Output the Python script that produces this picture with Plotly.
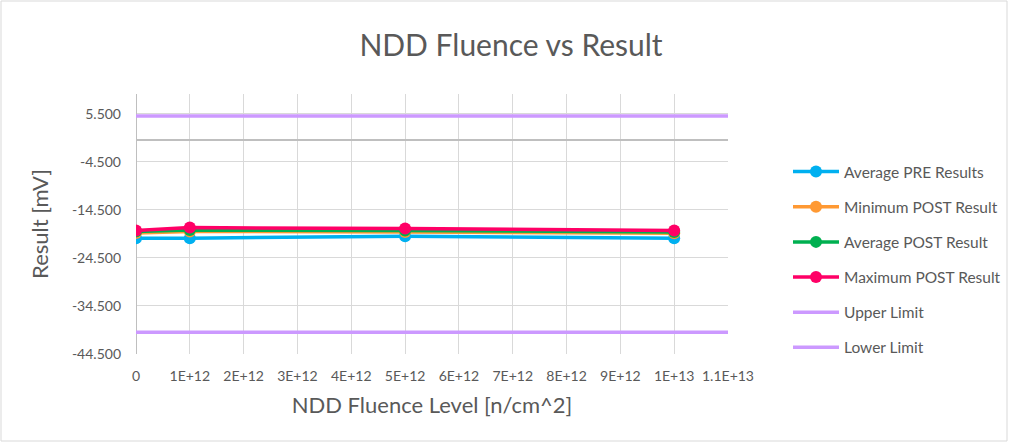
import plotly.graph_objects as go

fluence = [0, 1e12, 5e12, 1e13]
avg_pre = [-20.4, -20.4, -20.0, -20.4]
min_post = [-19.3, -19.0, -19.1, -19.4]
avg_post = [-19.0, -18.7, -18.8, -19.1]
max_post = [-18.8, -18.2, -18.4, -18.8]

limit_x = [0, 1.1e13]
upper_limit = [5, 5]
lower_limit = [-40, -40]

x_tickvals = [0, 1e12, 2e12, 3e12, 4e12, 5e12, 6e12, 7e12, 8e12, 9e12, 1e13, 1.1e13]
x_ticktext = ["0", "1E+12", "2E+12", "3E+12", "4E+12", "5E+12", "6E+12", "7E+12",
              "8E+12", "9E+12", "1E+13", "1.1E+13"]
y_tickvals = [-44.5, -34.5, -24.5, -14.5, -4.5, 5.5]
y_ticktext = ["-44.500", "-34.500", "-24.500", "-14.500", "-4.500", "5.500"]

FONT = "Lato, 'Open Sans', sans-serif"
TXT = "#595959"

series = [
    ("Average PRE Results", avg_pre, "#00B0F0"),
    ("Minimum POST Result", min_post, "#FF9933"),
    ("Average POST Result", avg_post, "#00B050"),
    ("Maximum POST Result", max_post, "#FF0066"),
]

fig = go.Figure()
for i, (name, vals, col) in enumerate(series):
    fig.add_trace(go.Scatter(
        x=fluence, y=vals, name=name, mode="lines+markers",
        line=dict(color=col, width=3.5),
        marker=dict(color=col, size=12),
        legendgroup=f"g{i}",
    ))
fig.add_trace(go.Scatter(x=limit_x, y=upper_limit, name="Upper Limit", mode="lines",
                         line=dict(color="#CC99FF", width=3.5), legendgroup="g4"))
fig.add_trace(go.Scatter(x=limit_x, y=lower_limit, name="Lower Limit", mode="lines",
                         line=dict(color="#CC99FF", width=3.5), legendgroup="g5"))

W, H = 1009, 443
L, R, T, B = 136, 281, 94, 89
PW, PH = W - L - R, H - T - B

def px_x(p):
    return (p - L) / PW

def px_y(p):
    return (H - B - p) / PH

fig.update_layout(
    width=W, height=H,
    paper_bgcolor="white", plot_bgcolor="white",
    margin=dict(l=L, r=R, t=T, b=B, autoexpand=False),
    title=dict(text="NDD Fluence vs Result", x=511 / W, xanchor="center", y=1 - 45 / H, yanchor="middle",
               font=dict(family=FONT, size=30, color=TXT)),
    font=dict(family=FONT, color=TXT, size=14),
    legend=dict(x=px_x(788), xanchor="left", y=px_y(155), yanchor="top",
                font=dict(family=FONT, size=15.5, color=TXT), itemwidth=46,
                tracegroupgap=12, bgcolor="rgba(0,0,0,0)"),
    xaxis=dict(range=[0, 1.1e13], tickvals=x_tickvals, ticktext=x_ticktext,
               showgrid=True, gridcolor="#D9D9D9", gridwidth=1,
               zeroline=True, zerolinecolor="#BFBFBF", zerolinewidth=1,
               showline=False, ticks="", tickfont=dict(size=14, color=TXT),
               ticklabelstandoff=12, automargin=False,
               title=dict(text="NDD Fluence Level [n/cm^2]", font=dict(size=22, color=TXT), standoff=14)),
    yaxis=dict(range=[-44.5, 9.6], tickvals=y_tickvals, ticktext=y_ticktext,
               showgrid=True, gridcolor="#D9D9D9", gridwidth=1,
               zeroline=True, zerolinecolor="#BFBFBF", zerolinewidth=1.5,
               showline=False, ticks="", tickfont=dict(size=14, color=TXT),
               ticklabelstandoff=14, automargin=False,
               title=dict(text="Result [mV]", font=dict(size=22, color=TXT), standoff=17)),
    shapes=[dict(type="rect", xref="paper", yref="paper", x0=px_x(1), x1=px_x(1007),
                 y0=px_y(441), y1=px_y(1), line=dict(color="#D9D9D9", width=1),
                 fillcolor="rgba(0,0,0,0)", layer="below")],
)
fig.write_html("out.html", config={"displayModeBar": False},
               post_script="document.body.style.margin='0';")
